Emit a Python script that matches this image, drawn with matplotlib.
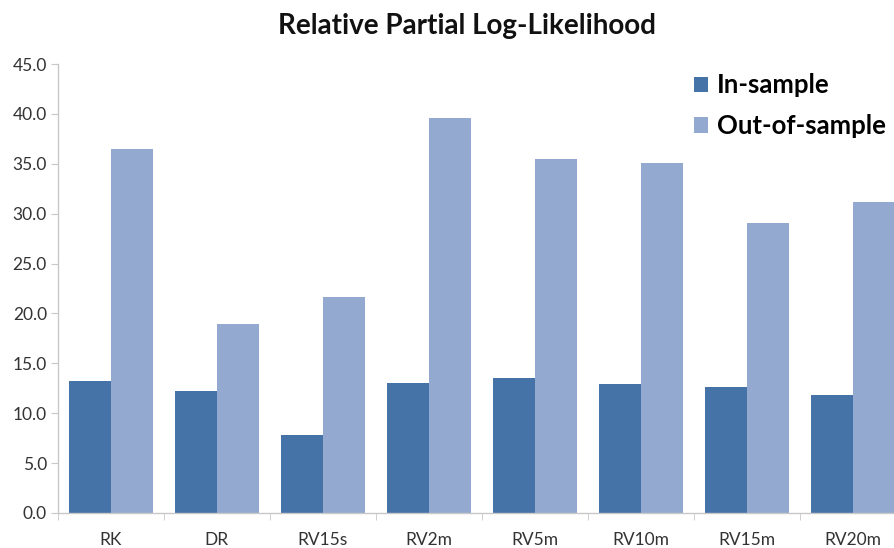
import matplotlib
matplotlib.use('Agg')
import matplotlib.pyplot as plt
import numpy as np

categories = ['RK', 'DR', 'RV15s', 'RV2m', 'RV5m', 'RV10m', 'RV15m', 'RV20m']
in_sample = [13.2, 12.2, 7.8, 13.0, 13.5, 12.9, 12.6, 11.8]
out_of_sample = [36.5, 18.9, 21.7, 39.6, 35.5, 35.1, 29.1, 31.2]
y_ticks = np.arange(0, 45.1, 5)

DARK_BLUE = '#4572A7'
LIGHT_BLUE = '#93A9D0'
AXIS_GRAY = '#C8C8C8'
LABEL_GRAY = '#333333'

plt.rcParams['font.family'] = ['Lato', 'DejaVu Sans']

fig = plt.figure(figsize=(8.95, 5.48), dpi=100)
# the plot area runs a little past the right edge of the figure
ax = fig.add_axes([0.0648, 0.064, 0.947, 0.819])

x = np.arange(len(categories))
width = 0.396
ax.bar(x - width / 2, in_sample, width, color=DARK_BLUE, label='In-sample')
ax.bar(x + width / 2, out_of_sample, width, color=LIGHT_BLUE, label='Out-of-sample')

ax.set_xlim(-0.5, len(categories) - 0.5)
ax.set_ylim(0, 45)
ax.set_yticks(y_ticks)
ax.set_yticklabels([f'{v:.1f}' for v in y_ticks])
ax.set_xticks(x)
ax.set_xticklabels(categories)
ax.set_xticks(np.arange(len(categories) + 1) - 0.5, minor=True)

for side in ('top', 'right'):
    ax.spines[side].set_visible(False)
for side in ('left', 'bottom'):
    ax.spines[side].set_color(AXIS_GRAY)
    ax.spines[side].set_linewidth(1.0)

ax.tick_params(axis='y', length=5, color=AXIS_GRAY, labelsize=12.5, labelcolor=LABEL_GRAY, pad=3)
ax.tick_params(axis='x', which='major', length=0, labelsize=12.5, labelcolor=LABEL_GRAY, pad=14)
ax.tick_params(axis='x', which='minor', length=5, color=AXIS_GRAY)

fig.text(0.522, 0.953, 'Relative Partial Log-Likelihood', ha='center', va='center',
         fontsize=20, fontweight='bold', color='#111111')

leg = ax.legend(loc='upper left', bbox_to_anchor=(0.775, 0.866), bbox_transform=fig.transFigure,
                frameon=False, fontsize=18.5, handlelength=0.55, handleheight=0.55,
                handletextpad=0.35, labelspacing=0.65, borderaxespad=0, borderpad=0)
for text in leg.get_texts():
    text.set_fontweight('bold')

fig.savefig('out.png', dpi=100)
